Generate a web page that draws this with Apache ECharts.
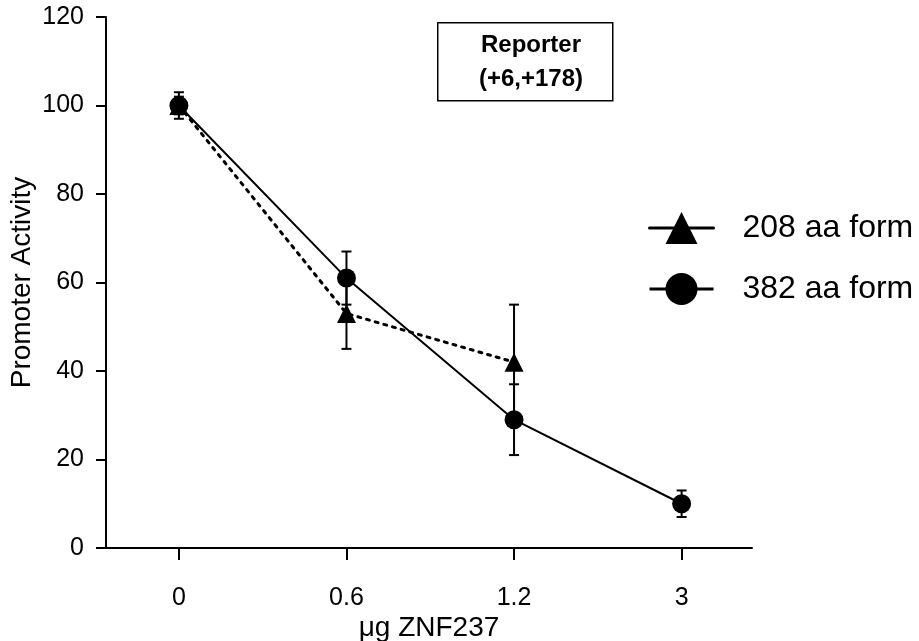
<!DOCTYPE html>
<html>
<head>
<meta charset="utf-8">
<script src="https://cdn.jsdelivr.net/npm/echarts@6/dist/echarts.min.js"></script>
<style>html,body{margin:0;padding:0;background:#fff;}#c{width:919px;height:641px;}</style>
</head>
<body>
<div id="c"></div>
<script>
// ---- data ----
var categories = ['0', '0.6', '1.2', '3'];
var yTicks = [0, 20, 40, 60, 80, 100, 120];
var form382 = [100, 61, 29, 10];
var form382Err = [3, 6, 8, 3];
var form208 = [100, 53, 42];
var form208Err = [2, 8, 13];
var seriesNames = ['208 aa form', '382 aa form'];

var FONT = 'Liberation Sans, Arial, sans-serif';

function pts(vals) { return vals.map(function (v, i) { return [i, v]; }); }
function errs(vals, e) { return vals.map(function (v, i) { return [i, v - e[i], v + e[i]]; }); }

function errorRender(params, api) {
  var x = api.value(0);
  var lo = api.coord([x, api.value(1)]);
  var hi = api.coord([x, api.value(2)]);
  var cap = 5;
  var st = { stroke: '#000', lineWidth: 2 };
  return {
    type: 'group',
    children: [
      { type: 'line', shape: { x1: lo[0], y1: lo[1], x2: hi[0], y2: hi[1] }, style: st },
      { type: 'line', shape: { x1: lo[0] - cap, y1: lo[1], x2: lo[0] + cap, y2: lo[1] }, style: st },
      { type: 'line', shape: { x1: hi[0] - cap, y1: hi[1], x2: hi[0] + cap, y2: hi[1] }, style: st }
    ]
  };
}

var d208 = pts(form208);
var chart = echarts.init(document.getElementById('c'), null, { renderer: 'canvas' });
chart.setOption({
  animation: false,
  backgroundColor: '#fff',
  grid: { left: 106, top: 17, right: 167, bottom: 93, containLabel: false, outerBoundsMode: 'none' },
  xAxis: {
    type: 'value', min: -0.435, max: 3.42,
    splitLine: { show: false },
    axisLine: { onZero: false, lineStyle: { color: '#000', width: 2 } },
    axisTick: { show: true, length: 12, lineStyle: { color: '#000', width: 2 }, customValues: [0, 1, 2, 3] },
    axisLabel: {
      customValues: [0, 1, 2, 3], margin: 38,
      formatter: function (v) { return categories[Math.round(v)]; },
      color: '#000', fontSize: 25, fontFamily: FONT
    },
    name: 'μg ZNF237', nameLocation: 'middle', nameGap: 66, nameMoveOverlap: false,
    nameTextStyle: { color: '#000', fontSize: 28, fontFamily: FONT }
  },
  yAxis: {
    type: 'value', min: yTicks[0], max: yTicks[yTicks.length - 1], interval: 20,
    splitLine: { show: false },
    axisLine: { show: true, onZero: false, lineStyle: { color: '#000', width: 2 } },
    axisTick: { show: true, length: 10, lineStyle: { color: '#000', width: 2 } },
    axisLabel: { color: '#000', fontSize: 25, fontFamily: FONT, margin: 22 },
    name: 'Promoter Activity', nameLocation: 'middle', nameGap: 70, nameRotate: 90, nameMoveOverlap: false,
    nameTextStyle: { color: '#000', fontSize: 28, fontFamily: FONT }
  },
  legend: {
    orient: 'vertical', left: 643, top: 207,
    itemWidth: 64, itemHeight: 40, itemGap: 29,
    data: seriesNames,
    lineStyle: { type: 'solid', width: 3, color: '#000' },
    textStyle: { color: '#000', fontSize: 32, fontFamily: FONT, padding: [0, 0, 0, 24] }
  },
  graphic: [
    { type: 'rect', left: 437, top: 22, shape: { width: 175, height: 78 },
      style: { fill: '#fff', stroke: '#000', lineWidth: 1.5 }, z: 10 },
    { type: 'text', style: { text: 'Reporter', x: 531, y: 45, textAlign: 'center', textVerticalAlign: 'middle',
      font: 'bold 24px ' + FONT, fill: '#000' }, z: 11 },
    { type: 'text', style: { text: '(+6,+178)', x: 531, y: 79, textAlign: 'center', textVerticalAlign: 'middle',
      font: 'bold 24px ' + FONT, fill: '#000' }, z: 11 }
  ],
  series: [
    { name: seriesNames[0], type: 'line', data: d208, symbol: 'triangle', symbolSize: 19,
      itemStyle: { color: '#000' }, lineStyle: { color: '#000', width: 3, type: [3, 6], cap: 'round' }, z: 3 },
    { name: seriesNames[1], type: 'line', data: pts(form382), symbol: 'circle', symbolSize: 19,
      itemStyle: { color: '#000' }, lineStyle: { color: '#000', width: 2 }, z: 4 },
    { type: 'custom', renderItem: errorRender, data: errs(form208, form208Err), z: 2, silent: true },
    { type: 'custom', renderItem: errorRender, data: errs(form382, form382Err), z: 2, silent: true }
  ]
});
</script>
</body>
</html>
